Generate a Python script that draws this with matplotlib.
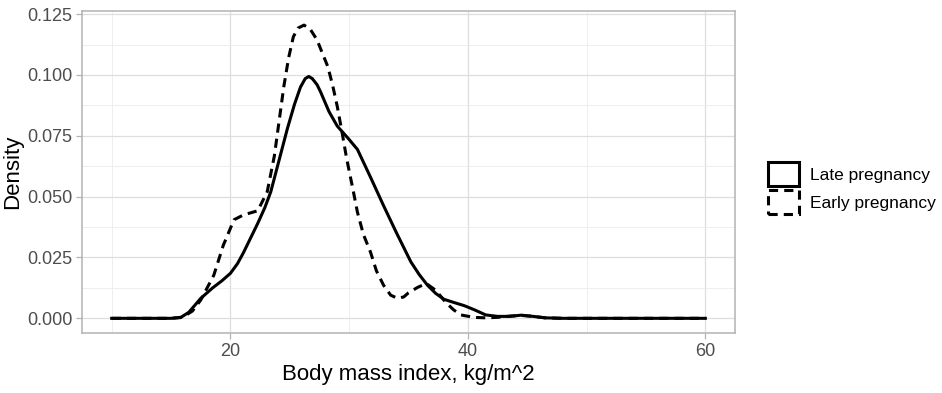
import matplotlib
matplotlib.use("Agg")
import matplotlib.pyplot as plt
from matplotlib.patches import Patch

plt.rcParams['font.family'] = ['Liberation Sans', 'DejaVu Sans']

# Late pregnancy (solid)
late_bmi = [10, 12, 14, 15, 15.8, 16.5, 17.5, 18.5, 19.3, 20, 20.6, 21.1, 21.7, 22.3,
            22.9, 23.4, 24.1, 24.8, 25.4, 25.9, 26.3, 26.6, 26.9, 27.3, 27.6, 28.3,
            29.0, 30.0, 30.7, 31.8, 32.9, 34.0, 35.2, 35.9, 36.6, 37.3, 38.0, 38.9,
            39.7, 40.6, 41.5, 42.5, 43.5, 44.5, 45.5, 46.5, 48, 50, 55, 60]
late_den = [0, 0, 0, 0, 0.0003, 0.0025, 0.0082, 0.0125, 0.0155, 0.0185, 0.0225, 0.027,
            0.033, 0.039, 0.0455, 0.052, 0.065, 0.078, 0.088, 0.095, 0.0985, 0.0994,
            0.0985, 0.096, 0.093, 0.085, 0.079, 0.0735, 0.0694, 0.058, 0.0463, 0.035,
            0.0232, 0.018, 0.0136, 0.0102, 0.0078, 0.0064, 0.0052, 0.0034, 0.0014,
            0.0008, 0.0008, 0.0013, 0.0008, 0.0002, 0, 0, 0, 0]

# Early pregnancy (dashed)
early_bmi = [10, 12, 14, 15, 16, 16.8, 17.5, 18.6, 19.4, 20.3, 21.1, 22.3, 23.1, 23.7,
             24.1, 24.5, 24.9, 25.3, 25.7, 26.2, 26.7, 27.3, 27.7, 28.2, 28.6, 29.0,
             29.4, 29.8, 30.3, 30.7, 31.2, 31.8, 32.3, 32.9, 33.5, 34.1, 34.6, 35.0,
             35.8, 36.5, 37.3, 38.2, 38.8, 39.4, 40.5, 41.5, 42.5, 43.5, 44.5, 45.5,
             46.5, 48, 50, 55, 60]
early_den = [0, 0, 0, 0, 0.0005, 0.003, 0.0075, 0.0177, 0.030, 0.0405, 0.0425, 0.0442,
             0.052, 0.0667, 0.081, 0.0953, 0.107, 0.1157, 0.1193, 0.1205, 0.119,
             0.1144, 0.1095, 0.1035, 0.096, 0.0871, 0.0765, 0.0654, 0.0535, 0.0436,
             0.0345, 0.0272, 0.0195, 0.0136, 0.0095, 0.0082, 0.0088, 0.0105, 0.0128,
             0.0143, 0.0115, 0.0062, 0.0035, 0.0014, 0.0004, 0.0002, 0.0004, 0.0009,
             0.0012, 0.0008, 0.0002, 0, 0, 0, 0]

x_ticks = [20, 40, 60]
y_ticks = [0.000, 0.025, 0.050, 0.075, 0.100, 0.125]
y_labels = ["0.000", "0.025", "0.050", "0.075", "0.100", "0.125"]
series_names = ["Late pregnancy", "Early pregnancy"]

fig = plt.figure(figsize=(9.42, 3.93), dpi=100)
ax = fig.add_axes([82 / 942, 1 - 333 / 393, (735 - 82) / 942, (333 - 11) / 393])

ax.plot(late_bmi, late_den, color='black', lw=2.2, ls='-', solid_joinstyle='round', zorder=3)
ax.plot(early_bmi, early_den, color='black', lw=2.2, ls=(0, (3, 2)), zorder=3)

ax.set_xlim(7.5, 62.5)
ax.set_ylim(-0.00603, 0.1263)

ax.set_xticks(x_ticks)
ax.set_xticks([10, 30, 50], minor=True)
ax.set_yticks(y_ticks)
ax.set_yticklabels(y_labels)
ax.set_yticks([0.0125, 0.0375, 0.0625, 0.0875, 0.1125], minor=True)

ax.grid(which='major', color='#DEDEDE', lw=0.9, zorder=0)
ax.grid(which='minor', color='#EBEBEB', lw=0.6, zorder=0)
ax.set_axisbelow(True)

for sp in ax.spines.values():
    sp.set_color('#B3B3B3')
    sp.set_linewidth(1.1)

ax.tick_params(which='major', length=4, color='#B3B3B3', width=0.9,
               labelsize=13, labelcolor='#4D4D4D', pad=3)
ax.tick_params(which='minor', length=0)

ax.set_xlabel("Body mass index, kg/m^2", fontsize=16, color='black', labelpad=3)
ax.set_ylabel("Density", fontsize=16, color='black', labelpad=3)

handles = [Patch(facecolor='white', edgecolor='black', lw=2.2, ls='-'),
           Patch(facecolor='white', edgecolor='black', lw=2.2, ls=(0, (3, 2)))]
leg = fig.legend(handles, series_names, loc='center left',
                 bbox_to_anchor=(768 / 942, 1 - 188 / 393), frameon=False,
                 fontsize=12.5, handlelength=1.8, handleheight=1.8,
                 handletextpad=0.6, labelspacing=0.2, borderaxespad=0, borderpad=0)

fig.savefig("out.png", dpi=100)
